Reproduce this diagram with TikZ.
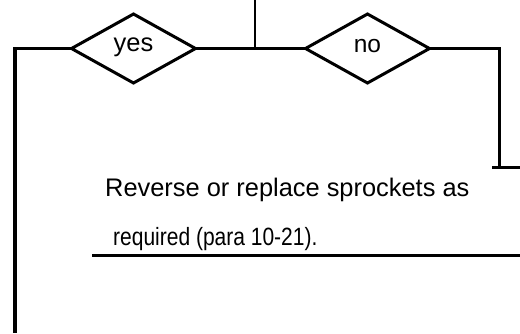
\documentclass[tikz,border=0pt]{standalone}
\usepackage{fontspec}
\setmainfont{Liberation Sans}
\usetikzlibrary{shapes.geometric}
\begin{document}
\begin{tikzpicture}[x=1pt,y=-1pt,
  wire/.style={line width=3pt,line join=miter,black},
  decision/.style={diamond,draw,line width=3pt,minimum width=124pt,minimum height=69pt,inner sep=0pt,outer sep=0pt,text height=1.3ex,text depth=0pt,font=\fontsize{25.5}{28}\selectfont},
  bodytext/.style={anchor=base west,inner sep=0pt,font=\fontsize{25.4}{28}\selectfont}]
\useasboundingbox (0,0) rectangle (520,333);
\node[decision] (yes) at (133.5,48.5) {yes};
\node[decision,font=\fontsize{24.5}{28}\selectfont,text height=1.5ex] (no) at (367.5,48.5) {no};
\coordinate (top) at (255,0);
\coordinate (junc) at (255,48.5);
\coordinate (lbot) at (15,333);
\coordinate (rcorner) at (499,167);
\coordinate (rfootL) at (492,167);
\coordinate (rfootR) at (520,167);
\coordinate (ulL) at (92,255);
\coordinate (ulR) at (520,255);
\draw[wire] (yes.east) -- (no.west);
\draw[wire,line width=2.5pt] (top) -- (junc);
\draw[wire,line width=3.5pt] (yes.west) -| (lbot);
\draw[wire] (no.east) -| (rcorner);
\draw[wire] (rfootL) -- (rfootR);
\draw[wire] (ulL) -- (ulR);
\node[bodytext] (t1) at (105,196) {Reverse or replace sprockets as};
\node[bodytext] (t2) at (113,245) {\scalebox{0.84}[1]{\fontsize{25}{28}\selectfont required (para 10-21).}};
\end{tikzpicture}
\end{document}
